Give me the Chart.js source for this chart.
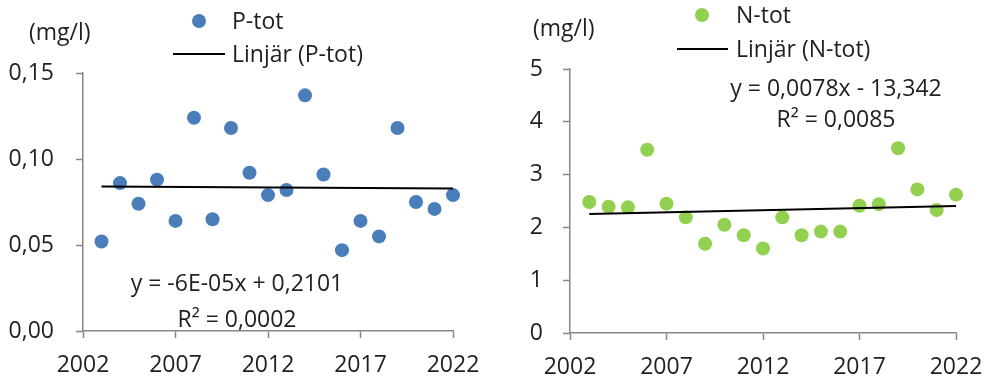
<!DOCTYPE html>
<html>
<head>
<meta charset="utf-8">
<script src="https://cdn.jsdelivr.net/npm/chart.js@4.4.1/dist/chart.umd.min.js"></script>
<style>
  html, body { margin: 0; padding: 0; background: #fff; }
  #wrap { position: relative; width: 987px; height: 383px; }
  canvas { position: absolute; top: 0; }
</style>
</head>
<body>
<div id="wrap">
  <canvas id="c1" width="490" height="383" style="left:0px"></canvas>
  <canvas id="c2" width="497" height="383" style="left:490px"></canvas>
</div>
<script>
// ---- Data ----
const years = [2003,2004,2005,2006,2007,2008,2009,2010,2011,2012,2013,2014,2015,2016,2017,2018,2019,2020,2021,2022];
const pTot = [0.052,0.086,0.074,0.088,0.064,0.124,0.065,0.118,0.092,0.079,0.082,0.137,0.091,0.047,0.064,0.055,0.118,0.075,0.071,0.079];
const nTot = [2.48,2.39,2.38,3.47,2.45,2.19,1.69,2.05,1.85,1.60,2.19,1.85,1.92,1.92,2.41,2.44,3.50,2.72,2.33,2.62];
const trendYears = [2003, 2022];
const pTrend = [0.0840, 0.0828];
const nTrend = [2.255, 2.403];
const xTicks = [2002, 2007, 2012, 2017, 2022];
const pYTicks = [0, 0.05, 0.10, 0.15];
const nYTicks = [0, 1, 2, 3, 4, 5];
const pLabels = { series: 'P-tot', trend: 'Linjär (P-tot)', unit: '(mg/l)', eq: 'y = -6E-05x + 0,2101', r2: 'R² = 0,0002' };
const nLabels = { series: 'N-tot', trend: 'Linjär (N-tot)', unit: '(mg/l)', eq: 'y = 0,0078x - 13,342', r2: 'R² = 0,0085' };

const FONT = '"Open Sans", Lato, sans-serif';
const FSIZE = 23;
const TXT = '#1f1f1f';
const AXIS = '#868686';

function makeChart(id, vals, trend, yTicks, yMax, color, lab, lay) {
  const overlay = {
    id: 'overlay',
    afterDraw(chart) {
      const ctx = chart.ctx;
      ctx.save();
      ctx.fillStyle = TXT;
      ctx.font = FSIZE + 'px ' + FONT;
      ctx.textBaseline = 'middle';
      ctx.textAlign = 'left';
      ctx.fillText(lab.unit, lay.unit[0], lay.unit[1] + 1);
      ctx.beginPath();
      ctx.arc(lay.dot[0], lay.dot[1], 7, 0, Math.PI * 2);
      ctx.fillStyle = color;
      ctx.fill();
      ctx.fillStyle = TXT;
      ctx.fillText(lab.series, lay.legText, lay.dot[1] + 1);
      ctx.beginPath();
      ctx.moveTo(lay.line[0], lay.line[2]);
      ctx.lineTo(lay.line[1], lay.line[2]);
      ctx.strokeStyle = '#000';
      ctx.lineWidth = 2;
      ctx.stroke();
      ctx.fillText(lab.trend, lay.legText, lay.line[2] + 1);
      ctx.textAlign = 'center';
      ctx.fillText(lab.eq, lay.eq[0], lay.eq[1] + 1);
      ctx.fillText(lab.r2, lay.eq[0], lay.eq[2] + 1);
      ctx.restore();
    }
  };
  return new Chart(document.getElementById(id), {
    type: 'scatter',
    data: {
      datasets: [
        {
          type: 'line',
          data: trendYears.map((x, i) => ({ x, y: trend[i] })),
          borderColor: '#000',
          borderWidth: 2,
          pointRadius: 0,
          fill: false,
          clip: false,
          order: 0
        },
        {
          data: years.map((x, i) => ({ x, y: vals[i] })),
          backgroundColor: color,
          borderColor: color,
          borderWidth: 0,
          pointRadius: 7,
          pointHoverRadius: 7,
          clip: false,
          order: 1
        }
      ]
    },
    options: {
      responsive: false,
      animation: false,
      devicePixelRatio: 1,
      layout: { padding: { left: 0, right: lay.padRight, top: lay.padTop, bottom: 0 } },
      plugins: { legend: { display: false }, tooltip: { enabled: false } },
      scales: {
        x: {
          type: 'linear',
          min: 2002, max: 2022,
          afterBuildTicks(s) { s.ticks = xTicks.map(v => ({ value: v })); },
          afterFit(s) { s.height = lay.xH; s.paddingLeft = 0; s.paddingRight = 0; },
          ticks: {
            color: TXT, font: { family: FONT, size: FSIZE }, padding: 14,
            maxRotation: 0, autoSkip: false,
            callback: v => String(v)
          },
          grid: { drawOnChartArea: false, color: AXIS, tickLength: 7, tickWidth: 1.5 },
          border: { color: AXIS, width: 1.5 }
        },
        y: {
          min: 0, max: yMax,
          afterBuildTicks(s) { s.ticks = yTicks.map(v => ({ value: v })); },
          afterFit(s) { s.width = lay.yW; s.paddingTop = 0; s.paddingBottom = 0; },
          ticks: {
            color: TXT, font: { family: FONT, size: FSIZE }, padding: lay.yPad,
            callback: v => lay.fmt(v)
          },
          grid: { drawOnChartArea: false, color: AXIS, tickLength: 7, tickWidth: 1.5 },
          border: { color: AXIS, width: 1.5 }
        }
      }
    },
    plugins: [overlay]
  });
}

makeChart('c1', pTot, pTrend, pYTicks, 0.15, '#4a7ebb', pLabels, {
  padRight: 37, padTop: 73, xH: 52, yW: 83, yPad: 22,
  fmt: v => v.toFixed(2).replace('.', ','),
  unit: [29, 32], dot: [199, 21], legText: 232, line: [173, 225, 54],
  eq: [237, 283, 319]
});
makeChart('c2', nTot, nTrend, nYTicks, 5, '#92d050', nLabels, {
  padRight: 31, padTop: 69, xH: 50, yW: 80, yPad: 20,
  fmt: v => String(v),
  unit: [43, 28], dot: [212, 15], legText: 246, line: [187, 238, 49],
  eq: [346, 88, 119]
});
</script>
</body>
</html>
